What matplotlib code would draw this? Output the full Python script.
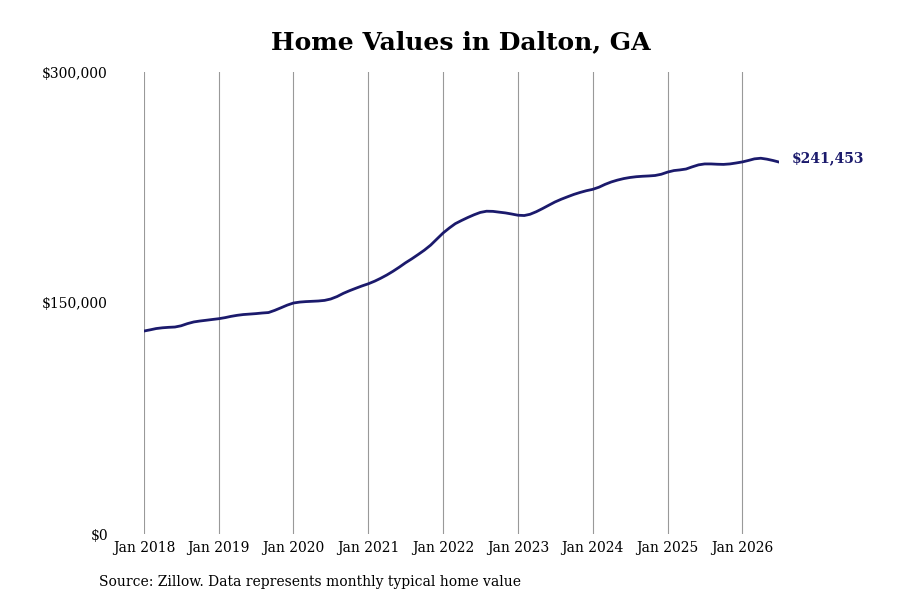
import pandas as pd
import matplotlib
matplotlib.use('Agg')
import matplotlib.pyplot as plt
import matplotlib.dates as mdates
from matplotlib.ticker import FuncFormatter

# --- Data (monthly typical home value) ---
START_MONTH = '2018-01-01'
home_values = [
    # 2018
    131800, 132600, 133400, 133900, 134200, 134400, 135200, 136600, 137700, 138300, 138800, 139300,
    # 2019
    139800, 140500, 141300, 142000, 142500, 142800, 143100, 143500, 143800, 145200, 146900, 148600,
    # 2020
    150000, 150600, 150900, 151100, 151300, 151700, 152600, 154200, 156300, 158000, 159600, 161100,
    # 2021
    162500, 164200, 166000, 168200, 170600, 173300, 176100, 178700, 181500, 184300, 187600, 191500,
    # 2022
    195500, 198800, 201500, 203600, 205500, 207300, 208800, 209600, 209500, 209000, 208500, 207800,
    # 2023
    207000, 206800, 207600, 209300, 211300, 213500, 215600, 217400, 219000, 220500, 221800, 222900,
    # 2024
    223800, 225200, 227000, 228600, 229800, 230800, 231500, 232000, 232300, 232500, 232800, 233600,
    # 2025
    235000, 236000, 236400, 237000, 238400, 239700, 240300, 240300, 240100, 240000, 240300, 240900,
    # 2026
    241600, 242600, 243600, 244000, 243400, 242500, 241453,
]
tick_years = list(range(2018, 2027))
y_ticks = [0, 150000, 300000]

dates = pd.date_range(START_MONTH, periods=len(home_values), freq='MS')

LINE_COLOR = '#1b1a6c'
plt.rcParams['font.family'] = 'DejaVu Serif'

fig = plt.figure(figsize=(9, 6), dpi=100)
ax = fig.add_axes([0.16, 0.11, 0.706, 0.77])

ax.plot(dates, home_values, color=LINE_COLOR, linewidth=2)

# label at the last point
ax.annotate(f"${home_values[-1]:,.0f}", xy=(dates[-1], home_values[-1]),
            xytext=(9, 3), textcoords='offset points', va='center', ha='left',
            fontsize=10, fontweight='bold', color=LINE_COLOR, annotation_clip=False)

ax.set_xlim(dates[0], dates[-1])
ax.set_ylim(0, 300000)

tick_dates = [pd.Timestamp(f'{y}-01-01') for y in tick_years]
ax.set_xticks(tick_dates)
ax.xaxis.set_major_formatter(mdates.DateFormatter('Jan %Y'))
ax.set_yticks(y_ticks)
ax.yaxis.set_major_formatter(FuncFormatter(lambda v, p: f"${v:,.0f}"))

ax.grid(True, axis='x', color='#999999', linewidth=0.8)
ax.grid(False, axis='y')
for s in ax.spines.values():
    s.set_visible(False)
ax.tick_params(axis='both', length=0, labelsize=10)
ax.tick_params(axis='y', pad=26)
ax.tick_params(axis='x', pad=5)

fig.suptitle("Home Values in Dalton, GA", x=0.512, y=0.95, fontsize=18, fontweight='bold')
fig.text(0.11, 0.024, "Source: Zillow. Data represents monthly typical home value", fontsize=10)

fig.savefig('out.png', dpi=100)
